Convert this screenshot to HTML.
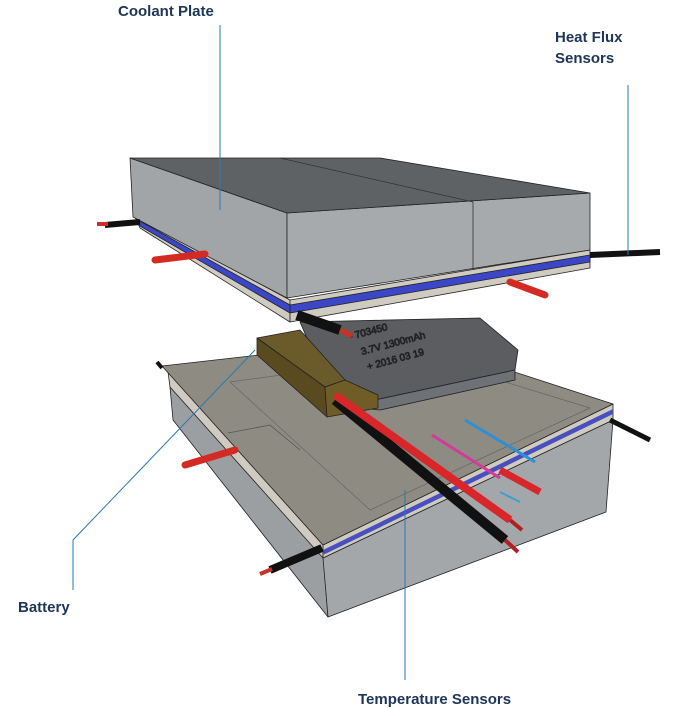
<!DOCTYPE html>
<html><head><meta charset="utf-8"><style>
html,body{margin:0;padding:0;background:#fff;}
svg{display:block;}
text{font-family:"Liberation Sans",sans-serif;}
.lbl{font-weight:bold;font-size:15px;fill:#1d3557;}
</style></head><body>
<svg width="691" height="716" viewBox="0 0 691 716" xmlns="http://www.w3.org/2000/svg">
<rect width="691" height="716" fill="#fff"/>
<g stroke="#222" stroke-width="0.8" stroke-linejoin="round">
<!-- bottom plate -->
<polygon points="170,387 323,553 328,617 173,420" fill="#9c9fa2"/>
<polygon points="323,558 613,420 606,512 328,617" fill="#a4a7aa"/>
<polygon points="168,372 323,545 323,558 170,387" fill="#cfcbc0"/>
<polygon points="323,545 613,404 613,420 323,558" fill="#cfcbc0"/>
<polygon points="323,550 613,409 613,414 323,555" fill="#4a4fc0" stroke="none"/>
<polygon points="162,366 410,338 613,404 323,545" fill="#8e8b83"/>
<polygon points="230,382 420,356 590,408 370,510" fill="none" stroke="#666" stroke-width="0.7"/>
<polyline points="228,433 270,425 300,450" fill="none" stroke="#555"/>
<!-- side wires bottom -->
<line x1="235" y1="450" x2="185" y2="465" stroke="#d42a24" stroke-width="7" stroke-linecap="round"/>
<line x1="322" y1="548" x2="270" y2="570" stroke="#111" stroke-width="8"/>
<line x1="272" y1="569" x2="260" y2="574" stroke="#c83028" stroke-width="4"/>
<line x1="610" y1="420" x2="650" y2="440" stroke="#111" stroke-width="5"/>
<line x1="162" y1="368" x2="157" y2="362" stroke="#111" stroke-width="4"/>
<!-- battery -->
<polygon points="300,322 480,318 518,350 515,370 375,400 330,392" fill="#5b5d60"/>
<polygon points="330,392 375,400 515,370 515,380 380,410 330,405" fill="#6e7175"/>
<text x="0" y="0" font-size="10" fill="#222" font-family="Liberation Mono,monospace" transform="translate(350,340) rotate(-15)">- 703450</text>
<text x="0" y="0" font-size="10" fill="#222" font-family="Liberation Mono,monospace" transform="translate(362,355) rotate(-15)">3.7V 1300mAh</text>
<text x="0" y="0" font-size="10" fill="#222" font-family="Liberation Mono,monospace" transform="translate(368,370) rotate(-15)">+ 2016 03 19</text>
<polygon points="257,338 300,330 345,380 325,387" fill="#6b5a2a"/>
<polygon points="257,338 325,387 327,417 257,355" fill="#5a4a20"/>
<polygon points="325,387 345,380 378,395 378,408 327,417" fill="#6f5c26"/>
<!-- main cables -->
<line x1="335" y1="400" x2="505" y2="540" stroke="#111" stroke-width="10"/>
<line x1="335" y1="395" x2="510" y2="520" stroke="#d8262a" stroke-width="8"/>
<line x1="505" y1="540" x2="518" y2="552" stroke="#b02020" stroke-width="4"/>
<line x1="510" y1="520" x2="522" y2="530" stroke="#b02020" stroke-width="4"/>
<line x1="500" y1="470" x2="540" y2="492" stroke="#d8262a" stroke-width="7"/>
<line x1="432" y1="435" x2="500" y2="478" stroke="#d43a9a" stroke-width="3"/>
<line x1="465" y1="420" x2="535" y2="462" stroke="#2f8fd6" stroke-width="3"/>
<line x1="500" y1="492" x2="520" y2="502" stroke="#3aa0d0" stroke-width="2"/>
<!-- top plate -->
<polygon points="135,217 290,300 290,322 140,228" fill="#cfcbc0"/>
<polygon points="290,300 590,250 590,268 290,322" fill="#cfcbc0"/>
<polygon points="290,305 590,255 590,262 290,313" fill="#3b47c6"/>
<polygon points="138,220 290,305 290,313 140,226" fill="#3b47c6"/>
<polygon points="130,158 287,213 287,298 133,217" fill="#a2a5a8"/>
<polygon points="287,213 590,193 590,250 287,298" fill="#a7aaad"/>
<line x1="473" y1="202" x2="473" y2="270" stroke="#333"/>
<polygon points="130,158 380,158 590,193 287,213" fill="#5f6265"/>
<line x1="280" y1="158" x2="473" y2="202" stroke="#333"/>
<!-- top plate wires -->
<line x1="140" y1="222" x2="105" y2="225" stroke="#111" stroke-width="6"/>
<line x1="108" y1="224" x2="97" y2="224" stroke="#c83028" stroke-width="4"/>
<line x1="205" y1="254" x2="155" y2="260" stroke="#d42a24" stroke-width="7" stroke-linecap="round"/>
<line x1="510" y1="282" x2="545" y2="295" stroke="#d42a24" stroke-width="7" stroke-linecap="round"/>
<line x1="590" y1="255" x2="660" y2="252" stroke="#111" stroke-width="6"/>
<line x1="297" y1="315" x2="340" y2="330" stroke="#111" stroke-width="10"/>
<line x1="340" y1="330" x2="352" y2="336" stroke="#c83028" stroke-width="5"/>
</g>
<!-- leader lines -->
<g stroke="#2a7ab0" stroke-width="1" fill="none">
<line x1="220" y1="25" x2="220" y2="210"/>
<line x1="628" y1="85" x2="628" y2="255"/>
<polyline points="73,590 73,540 255,350"/>
<line x1="405" y1="490" x2="405" y2="680"/>
</g>
<text class="lbl" x="118" y="16">Coolant Plate</text>
<text class="lbl" x="555" y="42">Heat Flux</text>
<text class="lbl" x="555" y="63">Sensors</text>
<text class="lbl" x="18" y="612">Battery</text>
<text class="lbl" x="358" y="704">Temperature Sensors</text>
</svg>
</body></html>
